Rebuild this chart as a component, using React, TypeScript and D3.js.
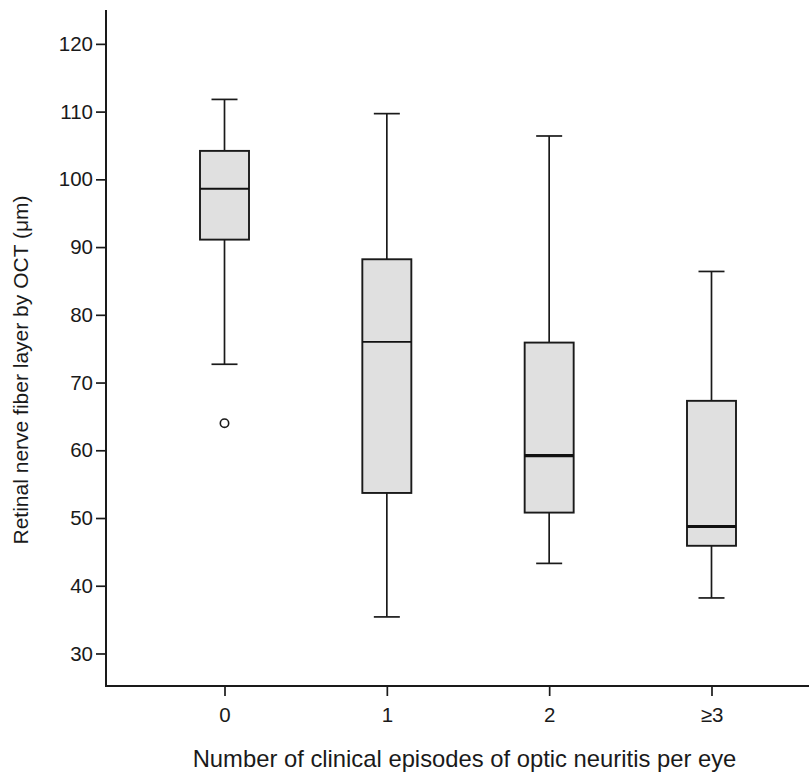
import React, { useEffect, useRef } from 'react';
import * as d3 from 'd3';

// categories and box statistics
const categories = ['0', '1', '2', '≥3'];
const whiskerLow = [72.7, 35.4, 43.3, 38.2];
const q1 = [91.1, 53.7, 50.8, 45.9];
const median = [98.6, 76.0, 59.2, 48.75];
const q3 = [104.2, 88.2, 75.9, 67.3];
const whiskerHigh = [111.8, 109.7, 106.4, 86.4];
const outliers = [{ cat: '0', value: 64.0 }];
const yTicks = [30, 40, 50, 60, 70, 80, 90, 100, 110, 120];

const xLabel = 'Number of clinical episodes of optic neuritis per eye';
const yLabel = 'Retinal nerve fiber layer by OCT (\u03bcm)';

const App = () => {
    const svgRef = useRef<SVGSVGElement>(null);

    useEffect(() => {
        const svg = d3.select(svgRef.current);
        svg.selectAll('*').remove();

        const width = 809;
        const height = 774;
        const left = 106;
        const top = 10;
        const bottom = 686;
        const font = 'Arial, "Liberation Sans", sans-serif';
        const ink = '#1a1a1a';

        svg.attr('width', width).attr('height', height);

        const x = d3.scalePoint<string>().domain(categories).range([left, 830]).padding(0.73);
        const y = d3.scaleLinear().domain([25.2, 125]).range([bottom, top]);

        // y axis
        const yAxis = svg.append('g')
            .attr('transform', `translate(${left},0)`)
            .call(d3.axisLeft(y).tickValues(yTicks).tickSize(10).tickPadding(3).tickSizeOuter(0));
        yAxis.select('.domain').remove();
        yAxis.selectAll('line').attr('stroke', ink).attr('stroke-width', 1.7);
        yAxis.selectAll('text').attr('font-family', font).attr('font-size', 20.5).attr('fill', ink);

        // x axis
        const xAxis = svg.append('g')
            .attr('transform', `translate(0,${bottom})`)
            .call(d3.axisBottom(x).tickSize(10).tickPadding(11).tickSizeOuter(0));
        xAxis.select('.domain').remove();
        xAxis.selectAll('line').attr('stroke', ink).attr('stroke-width', 1.7);
        xAxis.selectAll('text').attr('font-family', font).attr('font-size', 20.5).attr('fill', ink);

        // axis lines
        svg.append('path')
            .attr('d', `M${left},${top}V${bottom}H${width}`)
            .attr('fill', 'none')
            .attr('stroke', ink)
            .attr('stroke-width', 2);

        const boxW = 49;
        const capW = 26;

        categories.forEach((c, i) => {
            const cx = x(c) as number;
            const g = svg.append('g');

            // whiskers
            g.append('line')
                .attr('x1', cx).attr('x2', cx)
                .attr('y1', y(whiskerHigh[i])).attr('y2', y(q3[i]))
                .attr('stroke', ink).attr('stroke-width', 1.7);
            g.append('line')
                .attr('x1', cx).attr('x2', cx)
                .attr('y1', y(q1[i])).attr('y2', y(whiskerLow[i]))
                .attr('stroke', ink).attr('stroke-width', 1.7);
            [whiskerHigh[i], whiskerLow[i]].forEach((v) => {
                g.append('line')
                    .attr('x1', cx - capW / 2).attr('x2', cx + capW / 2)
                    .attr('y1', y(v)).attr('y2', y(v))
                    .attr('stroke', ink).attr('stroke-width', 1.7);
            });

            // box
            g.append('rect')
                .attr('x', cx - boxW / 2)
                .attr('y', y(q3[i]))
                .attr('width', boxW)
                .attr('height', y(q1[i]) - y(q3[i]))
                .attr('fill', '#e0e0e0')
                .attr('stroke', ink)
                .attr('stroke-width', 1.9);

            // median (thicker on the last two boxes)
            g.append('line')
                .attr('x1', cx - boxW / 2).attr('x2', cx + boxW / 2)
                .attr('y1', y(median[i])).attr('y2', y(median[i]))
                .attr('stroke', '#111')
                .attr('stroke-width', i >= 2 ? 3.2 : 1.9);
        });

        // outliers
        svg.selectAll('circle.out')
            .data(outliers)
            .enter()
            .append('circle')
            .attr('class', 'out')
            .attr('cx', (d) => x(d.cat) as number)
            .attr('cy', (d) => y(d.value))
            .attr('r', 4.2)
            .attr('fill', 'white')
            .attr('stroke', ink)
            .attr('stroke-width', 1.6);

        // axis titles
        svg.append('text')
            .attr('x', 464.5)
            .attr('y', 767)
            .attr('text-anchor', 'middle')
            .attr('font-family', font)
            .attr('font-size', 23.8)
            .attr('fill', ink)
            .text(xLabel);

        svg.append('text')
            .attr('transform', 'translate(28,370) rotate(-90)')
            .attr('text-anchor', 'middle')
            .attr('font-family', font)
            .attr('font-size', 21)
            .attr('fill', ink)
            .text(yLabel);
    }, []);

    return <svg ref={svgRef} style={{ position: 'absolute', left: 0, top: 0 }}></svg>;
};

export default App;
